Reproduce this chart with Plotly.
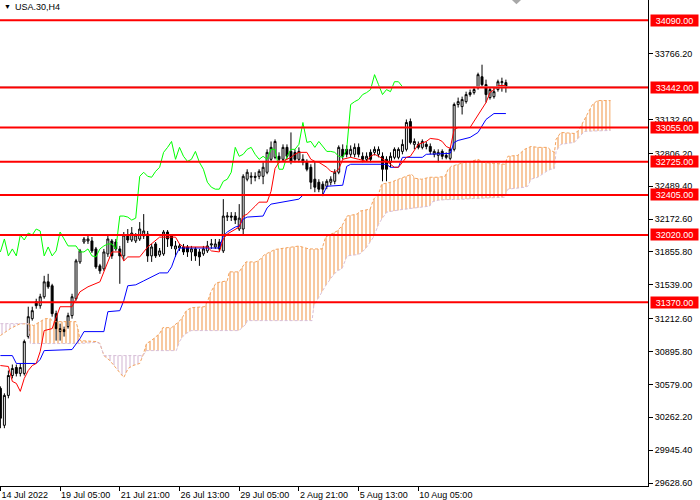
import numpy as np
import plotly.graph_objects as go

# USA.30 H4 bars, bar 0 = 14 Jul 2022 13:00
bar_open = [30541, 30185, 30473, 30665, 30742, 30685, 30685, 31040, 31213, 31376,
            31338, 31424, 31568, 31530, 31261, 31088, 31107, 31136, 31242, 31405,
            31760, 31952, 31962, 31962, 31885, 31722, 31693, 31837, 31962, 31952,
            31885, 31818, 32019, 31971, 31962, 31981, 32010, 32029, 31818, 31933,
            31827, 31837, 32048, 32010, 31885, 31894, 31904, 31904, 31856, 31885,
            31856, 31837, 31866, 31923, 31904, 31952, 31866, 32192, 32202, 32202,
            32077, 32077, 32557, 32576, 32585, 32585, 32585, 32624, 32749, 32768,
            32778, 32749, 32864, 32825, 32816, 32749, 32749, 32720, 32672, 32557,
            32528, 32509, 32489, 32528, 32537, 32624, 32845, 32845, 32797, 32797,
            32864, 32778, 32749, 32816, 32816, 32797, 32778, 32749, 32720, 32768,
            32768, 32825, 32845, 33113, 32893, 32893, 32864, 32893, 32873, 32797,
            32787, 32825, 32787, 32758, 32845, 33277, 33257, 33305, 33373, 33392,
            33440, 33545, 33469, 33344, 33353, 33421, 33488, 33488]
bar_high = [30560, 30493, 30713, 30771, 30771, 30781, 31011, 31328, 31328, 31405,
            31453, 31626, 31645, 31549, 31290, 31165, 31136, 31270, 31453, 31789,
            31885, 32000, 32029, 32000, 31904, 31741, 31885, 32010, 31981, 31981,
            31914, 32048, 32077, 32096, 32038, 32144, 32221, 32058, 31933, 31952,
            31894, 32067, 32067, 32029, 31962, 31933, 31933, 31923, 31914, 31904,
            31885, 31914, 31962, 31981, 31981, 31981, 32365, 32240, 32240, 32240,
            32317, 32605, 32653, 32624, 32624, 32653, 32720, 32845, 32921, 32941,
            32816, 32893, 32893, 33008, 32845, 32864, 32797, 32749, 32701, 32729,
            32557, 32537, 32557, 32585, 32653, 32883, 32893, 32883, 32883, 32902,
            32902, 32816, 32816, 32845, 32873, 32873, 32816, 32778, 32816, 32864,
            32864, 32941, 33133, 33142, 32950, 32921, 32941, 32921, 32902, 32845,
            32845, 32845, 32816, 32864, 33296, 33344, 33353, 33401, 33421, 33449,
            33584, 33661, 33517, 33440, 33440, 33517, 33536, 33517]
bar_low = [30157, 30157, 30445, 30637, 30656, 30656, 30665, 31021, 31194, 31309,
           31309, 31405, 31501, 31232, 31001, 31001, 31040, 31117, 31213, 31386,
           31741, 31933, 31933, 31846, 31693, 31645, 31674, 31808, 31789, 31866,
           31549, 31770, 31942, 31952, 31942, 31962, 31981, 31760, 31760, 31798,
           31808, 31818, 31904, 31885, 31808, 31866, 31827, 31808, 31770, 31770,
           31722, 31818, 31846, 31885, 31885, 31866, 31846, 32154, 32154, 32125,
           32058, 32010, 32537, 32509, 32537, 32557, 32509, 32605, 32729, 32749,
           32720, 32729, 32749, 32701, 32720, 32720, 32691, 32633, 32461, 32432,
           32432, 32394, 32461, 32499, 32509, 32605, 32749, 32768, 32768, 32768,
           32768, 32720, 32729, 32720, 32787, 32768, 32537, 32537, 32672, 32749,
           32749, 32797, 32825, 32893, 32845, 32845, 32845, 32845, 32797, 32768,
           32720, 32749, 32749, 32739, 32825, 33248, 33181, 33286, 33353, 33373,
           33421, 33440, 33296, 33325, 33334, 33401, 33401, 33392]
bar_close = [30253, 30473, 30665, 30733, 30685, 30742, 30992, 31232, 31290, 31338,
             31424, 31568, 31520, 31261, 31117, 31117, 31088, 31242, 31424, 31770,
             31866, 31981, 31981, 31866, 31712, 31674, 31856, 31981, 31818, 31885,
             31818, 32019, 31971, 32038, 32019, 32077, 32058, 31818, 31904, 31818,
             31866, 32048, 31981, 31914, 31914, 31914, 31856, 31856, 31885, 31818,
             31808, 31885, 31914, 31933, 31933, 31885, 32202, 32202, 32192, 32163,
             32182, 32585, 32624, 32585, 32576, 32633, 32672, 32816, 32864, 32921,
             32749, 32864, 32778, 32729, 32749, 32825, 32720, 32653, 32528, 32480,
             32461, 32461, 32537, 32557, 32624, 32864, 32778, 32797, 32845, 32864,
             32797, 32749, 32778, 32749, 32845, 32845, 32653, 32653, 32778, 32845,
             32845, 32893, 33104, 32912, 32921, 32864, 32921, 32873, 32825, 32825,
             32816, 32778, 32768, 32845, 33277, 33305, 33325, 33373, 33392, 33421,
             33565, 33469, 33373, 33421, 33401, 33497, 33497, 33449]

# Ichimoku lines (bar index, price)
tenkan_x = [0, 2, 3, 4, 5, 6, 7, 8, 9, 10, 11, 13, 15, 18, 19, 20, 22, 25, 27, 28,
            30, 31, 32, 35, 36, 37, 40, 44, 45, 46, 52, 53, 55, 56, 57, 59, 60, 61, 62, 64,
            65, 67, 68, 69, 70, 72, 73, 74, 75, 77, 78, 79, 80, 82, 83, 84, 85, 86, 88, 90,
            92, 93, 94, 95, 96, 97, 98, 99, 100, 102, 103, 105, 107, 108, 110, 111, 112, 113, 114, 115,
            118, 119, 120, 121, 122, 123, 124, 125, 127]
tenkan = [30761, 30752, 30608, 30589, 30512, 30637, 30713, 30761, 30781, 30896,
          31098, 31117, 31328, 31328, 31405, 31472, 31520, 31568, 31760, 31856,
          31856, 31770, 31808, 31808, 31856, 31904, 31999, 31999, 31933, 31904,
          31904, 31866, 31856, 31981, 32029, 32077, 32096, 32202, 32221, 32297,
          32336, 32336, 32441, 32661, 32720, 32749, 32768, 32797, 32816, 32816,
          32749, 32729, 32720, 32672, 32633, 32624, 32653, 32749, 32768, 32749,
          32729, 32778, 32797, 32778, 32749, 32729, 32701, 32672, 32672, 32768,
          32778, 32893, 32921, 32950, 32941, 32921, 32873, 32854, 33036, 33056,
          33056, 33113, 33181, 33229, 33296, 33392, 33421, 33460, 33460]

kijun_x = [0, 3, 4, 9, 10, 11, 18, 20, 21, 26, 27, 30, 31, 32, 34, 35, 36, 40, 42, 43,
           44, 45, 55, 56, 57, 59, 60, 61, 62, 66, 67, 68, 72, 75, 76, 81, 82, 86, 87, 88,
           97, 98, 100, 101, 106, 107, 113, 114, 115, 118, 120, 121, 122, 124, 127]
kijun = [30857, 30857, 30781, 30781, 30820, 30905, 30915, 31021, 31088, 31088,
         31280, 31290, 31386, 31530, 31539, 31560, 31577, 31654, 31654, 31712,
         31818, 31894, 31894, 32010, 32048, 32096, 32106, 32173, 32192, 32202,
         32280, 32317, 32346, 32365, 32403, 32403, 32489, 32499, 32681, 32701,
         32701, 32672, 32672, 32768, 32768, 32797, 32806, 32912, 32931, 32960,
         33008, 33065, 33133, 33190, 33190]

cloud_x = [0, 2.5, 5, 7, 7.5, 8.3, 10, 11.25, 12.5, 13.3, 19, 19.6, 20, 24.2, 25, 26,
           27.5, 29.2, 31, 32.1, 33.3, 35, 35.8, 36.7, 37.9, 40, 40.8, 43, 44.2, 45,
           45.8, 46.7, 47.9, 51.25, 52.1, 52.9, 54.2, 57, 57.5, 60, 60.4, 61.7, 62,
           64.2, 65.4, 66.25, 69, 75, 77.5, 78.3, 78.75, 80.8, 81.7, 83.3, 84.6, 85.8,
           87.1, 89.6, 90.4, 91.7, 92.9, 93.75, 95, 95.8, 97.1, 98.3, 100, 101.7, 103.3,
           104.2, 105.8, 107.9, 108.3, 110, 111.7, 112.5, 113.3, 115, 116.7, 118.3, 120,
           121.25, 124.2, 126.7, 127.5, 130, 131.7, 132.5, 133.3, 135, 136.7, 137.5,
           138.3, 139.2, 139.6, 140.8, 144.2, 145.4, 145.8, 146.7, 147.5, 148.75, 150, 153.3]
senkou_a = [31050, 31117, 31165, 31165, 31160, 31146, 31184, 31213, 31213, 31184,
            31184, 31098, 31001, 30992, 30973, 30857, 30809, 30733, 30646, 30733,
            30761, 30781, 30857, 30973, 31001, 31069, 31126, 31126, 31165, 31190,
            31230, 31290, 31318, 31328, 31385, 31472, 31558, 31578, 31664, 31664,
            31690, 31760, 31760, 31760, 31789, 31827, 31880, 31913, 31885, 31885,
            31885, 31885, 32000, 32030, 32058, 32106, 32202, 32221, 32250, 32260,
            32269, 32365, 32413, 32509, 32520, 32530, 32557, 32585, 32605, 32566,
            32557, 32576, 32576, 32576, 32585, 32653, 32681, 32701, 32720, 32729,
            32749, 32720, 32710, 32701, 32778, 32787, 32845, 32860, 32873, 32864,
            32864, 32864, 32835, 32816, 32941, 33008, 32998, 33030, 33065, 33130,
            33200, 33277, 33315, 33315]
senkou_b = [31165, 31165, 31165, 31165, 30973, 30973, 30973, 30973, 30973, 30973,
            30973, 30973, 30973, 30985, 30973, 30857, 30857, 30857, 30857, 30857,
            30857, 30857, 30857, 30905, 30905, 30905, 30905, 30905, 30905, 30992,
            31040, 31070, 31098, 31098, 31098, 31098, 31098, 31098, 31098, 31098,
            31117, 31160, 31194, 31194, 31194, 31194, 31194, 31194, 31194, 31194,
            31337, 31470, 31530, 31616, 31674, 31693, 31818, 31830, 31840, 31885,
            31952, 32000, 32120, 32173, 32240, 32250, 32260, 32269, 32275, 32280,
            32288, 32298, 32336, 32355, 32360, 32360, 32360, 32365, 32365, 32370,
            32370, 32375, 32380, 32384, 32461, 32470, 32480, 32489, 32557, 32576,
            32624, 32640, 32653, 32660, 32825, 32893, 32912, 32960, 32980, 33017,
            33020, 33022, 33025, 33027]
chikou_shift = 26

levels = [34090, 33442, 33055, 32725, 32405, 32020, 31370]

time_tick_bars = [0, 15, 30, 45, 60, 75, 90, 105]
time_tick_labels = ["14 Jul 2022", "19 Jul 05:00", "21 Jul 21:00", "26 Jul 13:00",
                    "29 Jul 05:00", "2 Aug 21:00", "5 Aug 13:00", "10 Aug 05:00"]
price_ticks = [29628.6, 29945.4, 30262.2, 30579.0, 30895.8, 31212.6, 31539.0,
               31855.8, 32172.6, 32489.4, 32806.2, 33132.6, 33766.2]

FONT = "Liberation Sans"
BULL_CLOUD = "#F4A460"
BEAR_CLOUD = "#D8BFD8"

fig = go.Figure()

# cloud: group consecutive intervals by which span is on top
a = np.array(senkou_a, dtype=float)
b = np.array(senkou_b, dtype=float)
cx = np.array(cloud_x, dtype=float)
runs = []
for k in range(len(cx) - 1):
    bull = (a[k] - b[k]) + (a[k + 1] - b[k + 1]) >= 0
    if runs and runs[-1][0] == bull:
        runs[-1][2] = k + 1
    else:
        runs.append([bull, k, k + 1])

for bull, k0, k1 in runs:
    col = BULL_CLOUD if bull else BEAR_CLOUD
    xs = list(cx[k0:k1 + 1]) + list(cx[k0:k1 + 1][::-1])
    ys = list(a[k0:k1 + 1]) + list(b[k0:k1 + 1][::-1])
    fig.add_trace(go.Scatter(
        x=xs, y=ys, mode="lines", fill="toself", line=dict(width=0),
        fillcolor="rgba(0,0,0,0)",
        fillpattern=dict(shape="|", fgcolor=col, bgcolor="rgba(0,0,0,0)",
                         size=4, solidity=0.3, fgopacity=1),
        hoverinfo="skip"))

fig.add_trace(go.Scatter(x=cloud_x, y=senkou_a, mode="lines",
                         line=dict(color=BULL_CLOUD, width=1, dash="3px,2px")))
fig.add_trace(go.Scatter(x=cloud_x, y=senkou_b, mode="lines",
                         line=dict(color=BEAR_CLOUD, width=1, dash="3px,2px")))

# chikou = closes drawn 26 bars back
chikou_x = [i - chikou_shift for i in range(chikou_shift, len(bar_close))]
fig.add_trace(go.Scatter(x=chikou_x, y=bar_close[chikou_shift:], mode="lines",
                         line=dict(color="#00FF00", width=1)))
fig.add_trace(go.Scatter(x=kijun_x, y=kijun, mode="lines",
                         line=dict(color="#0000FF", width=1)))
fig.add_trace(go.Scatter(x=tenkan_x, y=tenkan, mode="lines",
                         line=dict(color="#FF0000", width=1)))

fig.add_trace(go.Candlestick(
    x=list(range(len(bar_close))), open=bar_open, high=bar_high,
    low=bar_low, close=bar_close, whiskerwidth=0,
    increasing=dict(line=dict(color="black", width=1), fillcolor="white"),
    decreasing=dict(line=dict(color="black", width=1), fillcolor="black")))

# bid line
fig.add_shape(type="line", xref="paper", x0=0, x1=1, yref="y",
              y0=bar_close[-1], y1=bar_close[-1],
              line=dict(color="#C0C0C0", width=1), layer="above")

for lv in levels:
    fig.add_shape(type="line", xref="paper", x0=0, x1=1, yref="y", y0=lv, y1=lv,
                  line=dict(color="#FF0000", width=2), layer="above")
    fig.add_annotation(x=1, xref="paper", xanchor="left", xshift=2,
                       y=lv, yref="y", yanchor="middle", text=f"{lv:.2f}",
                       showarrow=False, bgcolor="#FF0000", borderpad=0,
                       width=47, height=11,
                       font=dict(family=FONT, size=9, color="white"))

# symbol caption and chart-shift marker
fig.add_annotation(x=0, xref="paper", xanchor="left", xshift=2, y=1, yref="paper",
                   yanchor="top", yshift=-1, text="▼", showarrow=False,
                   font=dict(family=FONT, size=7, color="black"))
fig.add_annotation(x=0, xref="paper", xanchor="left", xshift=13, y=1, yref="paper",
                   yanchor="top", text="USA.30,H4", showarrow=False,
                   font=dict(family=FONT, size=9, color="black"))
fig.add_shape(type="path", xref="paper", yref="paper",
              path="M 0.790 1 L 0.804 1 L 0.797 0.991 Z",
              fillcolor="#A8A8A8", line=dict(width=0))

fig.update_layout(
    width=700, height=500,
    margin=dict(l=0, r=52, t=0, b=14),
    paper_bgcolor="white", plot_bgcolor="white",
    showlegend=False,
    xaxis=dict(range=[-0.1, 162.7], rangeslider=dict(visible=False),
               showgrid=False, zeroline=False, showline=True, linecolor="black",
               linewidth=1, ticks="outside", ticklen=4, tickcolor="black",
               tickvals=time_tick_bars, ticktext=time_tick_labels,
               ticklabelposition="outside right",
               tickfont=dict(family=FONT, size=9, color="black")),
    yaxis=dict(side="right", range=[29599.8, 34284.6], showgrid=False,
               zeroline=False, showline=True, linecolor="black", linewidth=1,
               ticks="outside", ticklen=4, tickcolor="black",
               tickvals=price_ticks, ticktext=[f"{p:.2f}" for p in price_ticks],
               tickfont=dict(family=FONT, size=9, color="black")),
)

# page body margin would push the 700x500 figure off the window
fig.write_html("out.html", config={"displayModeBar": False},
               post_script="document.body.style.margin='0';")
